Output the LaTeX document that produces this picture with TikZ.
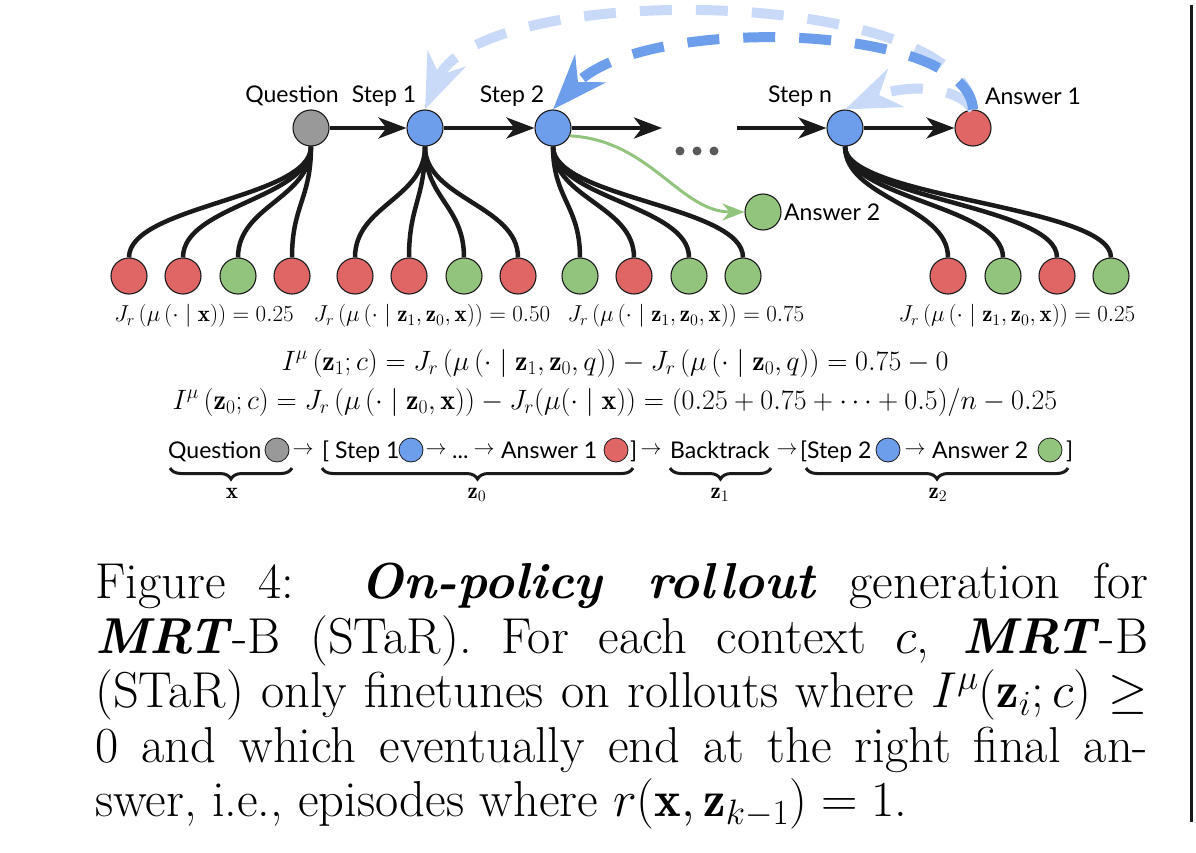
\RequirePackage{fix-cm}
\documentclass[tikz,border=0pt]{standalone}
\usepackage{fontspec}
\newfontfamily\lato{Lato}
\usetikzlibrary{arrows.meta,decorations.pathreplacing,calc}
\definecolor{cgray}{HTML}{999999}
\definecolor{cblue}{HTML}{6D9EEB}
\definecolor{cred}{HTML}{E06666}
\definecolor{cgreen}{HTML}{93C47D}
\definecolor{clight}{HTML}{C9DAF8}
\definecolor{ink}{HTML}{1A1A1A}
\begin{document}
\begin{tikzpicture}[x=1pt,y=-1pt,
  state/.style={circle,draw=ink,line width=1.1pt,minimum size=36pt,inner sep=0pt},
  mini/.style={circle,draw=ink,line width=0.8pt,minimum size=24pt,inner sep=0pt},
  lbl/.style={font=\lato\fontsize{23}{27}\selectfont,inner sep=0pt},
  seq/.style={font=\lato\fontsize{23}{27}\selectfont,inner sep=0pt,anchor=base west},
  sar/.style={font=\fontsize{21}{25}\selectfont,inner sep=0pt},
  jl/.style={font=\fontsize{23}{27}\selectfont,inner sep=0pt},
  eqn/.style={font=\fontsize{28}{33}\selectfont,inner sep=0pt},
  mainarrow/.style={line width=4pt,draw=ink,-{Stealth[length=28pt,width=21pt,inset=8pt]}},
  fan/.style={line width=4.5pt,draw=ink},
  dsh/.style={line width=10pt,dash pattern=on 32pt off 24pt},
  bigtip/.style={-{Stealth[length=55pt,width=41pt,inset=18pt]}},
  brc/.style={line width=3pt,draw=ink,decorate,decoration={brace,mirror,amplitude=11pt}},
  dot/.style={circle,fill=black!65,minimum size=9pt,inner sep=0pt}
]
\useasboundingbox (0,0) rectangle (1196,853);

% top chain
\node[state,fill=cgray] (q) at (311,128) {};
\node[state,fill=cblue] (s1) at (425,128) {};
\node[state,fill=cblue] (s2) at (553,128) {};
\node[state,fill=cblue] (sn) at (845,128) {};
\node[state,fill=cred] (a1) at (973,128) {};
\node[state,fill=cgreen] (a2) at (763,212) {};

\node[lbl] (lq) at (292,96) {Question};
\node[lbl] (ls1) at (384,96) {Step 1};
\node[lbl] (ls2) at (512,96) {Step 2};
\node[lbl] (lsn) at (800,96) {Step n};
\node[lbl] (la1) at (1033,96) {Answer 1};
\node[lbl,anchor=west] (la2) at (784,212) {Answer 2};

\node[dot] (d1) at (680,151) {};
\node[dot] (d2) at (697,151) {};
\node[dot] (d3) at (714,151) {};

\coordinate (e1) at (662,128);
\coordinate (e2) at (737,128);
\draw[mainarrow] (q) -- (s1);
\draw[mainarrow] (s1) -- (s2);
\draw[mainarrow] (s2) -- (e1);
\draw[mainarrow] (e2) -- (sn);
\draw[mainarrow] (sn) -- (a1);

% leaves
\foreach \n/\x/\c in {l11/129/cred,l12/183/cred,l13/238/cgreen,l14/292/cred,
  l21/355/cred,l22/409/cred,l23/464/cgreen,l24/518/cred,
  l31/580/cgreen,l32/634/cred,l33/689/cgreen,l34/743/cgreen,
  l41/948/cred,l42/1003/cgreen,l43/1057/cred,l44/1111/cgreen}
  {\node[state,fill=\c] (\n) at (\x,276) {};}

\foreach \p/\k in {q/1,s1/2,s2/3,sn/4}
  \foreach \j in {1,2,3,4}
    {\draw[fan] (\p.south) .. controls +(0,52) and +(0,-52) .. (l\k\j.north);}

% green arrow
\draw[line width=3pt,draw=cgreen,-{Stealth[length=22pt,width=17pt,inset=7pt]}]
  (s2.-25) .. controls (650,140) and (680,212) .. (a2.west);

% dashed backtrack arrows
\draw[dsh,draw=clight,bigtip] (a1.north) .. controls (960,-15) and (480,-20) .. (s1.north);
\draw[dsh,draw=clight,bigtip] (a1.north) .. controls (955,85) and (905,84) .. (sn.north);
\draw[dsh,draw=cblue,bigtip] (a1.north) .. controls (968,22) and (640,14) .. (s2.north);

% J labels
\node[jl] (j1) at (204,316) {$J_r\left(\mu\left(\cdot\mid\mathbf{x}\right)\right)=0.25$};
\node[jl] (j2) at (432,316) {$J_r\left(\mu\left(\cdot\mid\mathbf{z}_1,\mathbf{z}_0,\mathbf{x}\right)\right)=0.50$};
\node[jl] (j3) at (686,316) {$J_r\left(\mu\left(\cdot\mid\mathbf{z}_1,\mathbf{z}_0,\mathbf{x}\right)\right)=0.75$};
\node[jl] (j4) at (1017,316) {$J_r\left(\mu\left(\cdot\mid\mathbf{z}_1,\mathbf{z}_0,\mathbf{x}\right)\right)=0.25$};

% equations
\node[eqn] (eq1) at (615,363) {$I^{\mu}\left(\mathbf{z}_1;c\right)=J_r\left(\mu\left(\cdot\mid\mathbf{z}_1,\mathbf{z}_0,q\right)\right)-J_r\left(\mu\left(\cdot\mid\mathbf{z}_0,q\right)\right)=0.75-0$};
\node[eqn] (eq2) at (615,402) {$I^{\mu}\left(\mathbf{z}_0;c\right)=J_r\left(\mu\left(\cdot\mid\mathbf{z}_0,\mathbf{x}\right)\right)-J_r(\mu(\cdot\mid\mathbf{x}))=(0.25+0.75+\cdots+0.5)/n-0.25$};

% sequence line
\node[seq] (t1) at (168,458) {Question};
\node[mini,fill=cgray] (m1) at (277,450) {};
\node[sar] (r1) at (303,451) {$\rightarrow$};
\node[seq] (t2) at (322,458) {[ Step 1};
\node[mini,fill=cblue] (m2) at (411,450) {};
\node[sar] (r2) at (436,451) {$\rightarrow$};
\node[seq] (t3) at (452,458) {...};
\node[sar] (r3) at (484,451) {$\rightarrow$};
\node[seq] (t4) at (501,458) {Answer 1};
\node[mini,fill=cred] (m3) at (616,450) {};
\node[seq] (t5) at (630,458) {]};
\node[sar] (r4) at (651,451) {$\rightarrow$};
\node[seq] (t6) at (670,458) {Backtrack};
\node[sar] (r5) at (787,451) {$\rightarrow$};
\node[seq] (t7) at (800,458) {[Step 2};
\node[mini,fill=cblue] (m4) at (888,450) {};
\node[sar] (r6) at (915,451) {$\rightarrow$};
\node[seq] (t8) at (932,458) {Answer 2};
\node[mini,fill=cgreen] (m5) at (1050,450) {};
\node[seq] (t9) at (1066,458) {]};

\coordinate (bx1) at (170,468); \coordinate (bx2) at (292,468);
\coordinate (bz01) at (322,468); \coordinate (bz02) at (633,468);
\coordinate (bz11) at (670,468); \coordinate (bz12) at (771,468);
\coordinate (bz21) at (806,468); \coordinate (bz22) at (1068,468);
\draw[brc] (bx1) -- (bx2);
\draw[brc] (bz01) -- (bz02);
\draw[brc] (bz11) -- (bz12);
\draw[brc] (bz21) -- (bz22);
\node[jl] (ux) at (232,493) {$\mathbf{x}$};
\node[jl] (uz0) at (477,495) {$\mathbf{z}_0$};
\node[jl] (uz1) at (720,495) {$\mathbf{z}_1$};
\node[jl] (uz2) at (938,495) {$\mathbf{z}_2$};

% caption
\node[anchor=north west,text width=1053pt,align=justify,inner sep=0pt,
  font=\fontsize{50.5}{54.5}\selectfont] (cap) at (95,563)
  {Figure 4:~~\textbf{\textit{On-policy rollout}} generation for\linebreak
   \textbf{\textit{MRT}}-B (STaR). For each context $c$, \textbf{\textit{MRT}}-B\linebreak
   (STaR) only finetunes on rollouts where $I^{\mu}(\mathbf{z}_i;c)\geq$\linebreak
   $0$ and which eventually end at the right final an-\linebreak
   swer, i.e., episodes where $r\bigl(\mathbf{x},\mathbf{z}_{k-1}\bigr)=1$.};

% right rule
\coordinate (v1) at (1191,5);
\coordinate (v2) at (1191,822);
\draw[line width=3pt,draw=ink] (v1) -- (v2);
\end{tikzpicture}
\end{document}
